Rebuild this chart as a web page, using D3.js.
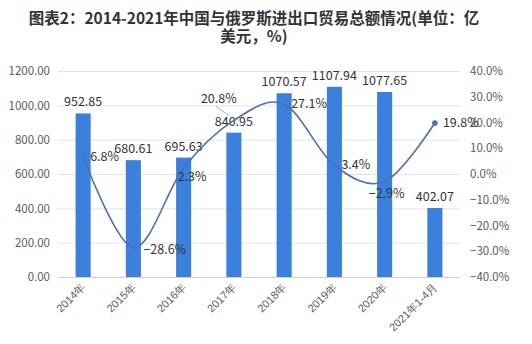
<!DOCTYPE html>
<html>
<head>
<meta charset="utf-8">
<script src="https://cdn.jsdelivr.net/npm/d3@7"></script>
<style>
  html, body { margin: 0; padding: 0; background: #fff; }
  svg { display: block; font-family: "Noto Sans CJK SC", "Microsoft YaHei", sans-serif; }
</style>
</head>
<body>
<svg id="chart" width="532" height="344"></svg>
<script>
// 2014-2021 China–Russia import & export trade value (100 million USD) and growth rate (%)
const categories = ["2014年", "2015年", "2016年", "2017年", "2018年", "2019年", "2020年", "2021年1-4月"];
const tradeValues = [952.85, 680.61, 695.63, 840.95, 1070.57, 1107.94, 1077.65, 402.07];
const growthRates = [6.8, -28.6, 2.3, 20.8, 27.1, 3.4, -2.9, 19.8];
const leftTicks = [0, 200, 400, 600, 800, 1000, 1200];
const rightTicks = [-40, -30, -20, -10, 0, 10, 20, 30, 40];
const titleLines = ["图表2：2014-2021年中国与俄罗斯进出口贸易总额情况(单位：亿", "美元，%)"];

const svg = d3.select("#chart");
const plot = { left: 58, right: 460, top: 71, bottom: 277 };

const x = d3.scaleBand().domain(categories).range([plot.left, plot.right]).paddingInner(0.7).paddingOuter(0.35);
const yL = d3.scaleLinear().domain([0, 1200]).range([plot.bottom, plot.top]);
const yR = d3.scaleLinear().domain([-40, 40]).range([plot.bottom, plot.top]);

// title
svg.append("g").selectAll("text").data(titleLines).join("text")
  .attr("x", 254).attr("y", (d, i) => 24 + i * 18)
  .attr("text-anchor", "middle")
  .attr("font-size", 15.5).attr("font-weight", "bold").attr("fill", "#333")
  .text(d => d);

// gridlines
svg.append("g").selectAll("line").data(leftTicks).join("line")
  .attr("x1", plot.left).attr("x2", plot.right)
  .attr("y1", d => yL(d) + 0.5).attr("y2", d => yL(d) + 0.5)
  .attr("stroke", d => d === 0 ? "#cfcfcf" : "#e3e3e3").attr("stroke-width", 1);

// left axis
const leftAxis = d3.axisLeft(yL).tickValues(leftTicks).tickFormat(d3.format(".2f")).tickSize(0).tickPadding(0);
const gL = svg.append("g").attr("transform", `translate(${plot.left - 8},0)`).call(leftAxis);
gL.select(".domain").remove();
gL.selectAll("text").attr("font-size", 11.5).attr("fill", "#595959").attr("font-family", "\"Noto Sans CJK SC\", sans-serif");

// right axis
const rightAxis = d3.axisRight(yR).tickValues(rightTicks).tickFormat(d => d3.format(".1f")(d) + "%").tickSize(0).tickPadding(0);
const gR = svg.append("g").attr("transform", `translate(${plot.right + 10},0)`).call(rightAxis);
gR.select(".domain").remove();
gR.selectAll("text").attr("font-size", 11.5).attr("fill", "#595959").attr("font-family", "\"Noto Sans CJK SC\", sans-serif");

// category labels
const bottomAxis = d3.axisBottom(x).tickSize(0).tickPadding(0);
const gB = svg.append("g").attr("transform", `translate(0,${plot.bottom})`).call(bottomAxis);
gB.select(".domain").remove();
gB.selectAll("text")
  .attr("font-size", 11).attr("fill", "#595959")
  .attr("text-anchor", "end")
  .attr("dy", 0)
  .attr("transform", "translate(3,11) rotate(-45)");

// bars
svg.append("g").selectAll("rect").data(tradeValues).join("rect")
  .attr("x", (d, i) => x(categories[i]))
  .attr("y", d => yL(d))
  .attr("width", x.bandwidth())
  .attr("height", d => yL(0) - yL(d))
  .attr("fill", "#3b80dd");

// bar value labels
svg.append("g").selectAll("text").data(tradeValues).join("text")
  .attr("x", (d, i) => x(categories[i]) + x.bandwidth() / 2)
  .attr("y", d => yL(d) - 7)
  .attr("text-anchor", "middle")
  .attr("font-size", 12.5).attr("fill", "#333")
  .text(d => d3.format(".2f")(d));

// growth-rate curve
const cx = i => x(categories[i]) + x.bandwidth() / 2;
const line = d3.line().x((d, i) => cx(i)).y(d => yR(d)).curve(d3.curveCardinal.tension(0));
svg.append("path").datum(growthRates)
  .attr("d", line)
  .attr("fill", "none").attr("stroke", "#4a6fb8").attr("stroke-width", 1.6);

// marker on last point
const last = growthRates.length - 1;
svg.append("circle").attr("cx", cx(last)).attr("cy", yR(growthRates[last])).attr("r", 2.8).attr("fill", "#4a6fb8");

// growth-rate labels: offsets relative to each point
const labelOffsets = [
  { dx: 7, dy: 5, anchor: "start" },
  { dx: 10, dy: 6, anchor: "start" },
  { dx: -6, dy: 13, anchor: "start" },
  { dx: -33, dy: -17, anchor: "start", leader: true },
  { dx: 7, dy: 4, anchor: "start" },
  { dx: 7, dy: 4, anchor: "start" },
  { dx: 2, dy: 17, anchor: "middle" },
  { dx: 8, dy: 4, anchor: "start" }
];
const pctLabels = svg.append("g");
growthRates.forEach((v, i) => {
  const o = labelOffsets[i];
  const px = cx(i), py = yR(v);
  if (o.leader) {
    pctLabels.append("line")
      .attr("x1", px - 18).attr("y1", py - 14).attr("x2", px - 5).attr("y2", py - 5)
      .attr("stroke", "#999").attr("stroke-width", 0.8);
  }
  pctLabels.append("text")
    .attr("x", px + o.dx).attr("y", py + o.dy)
    .attr("text-anchor", o.anchor)
    .attr("font-size", 12.5).attr("fill", "#333")
    .text(d3.format(".1f")(v) + "%");
});
</script>
</body>
</html>
